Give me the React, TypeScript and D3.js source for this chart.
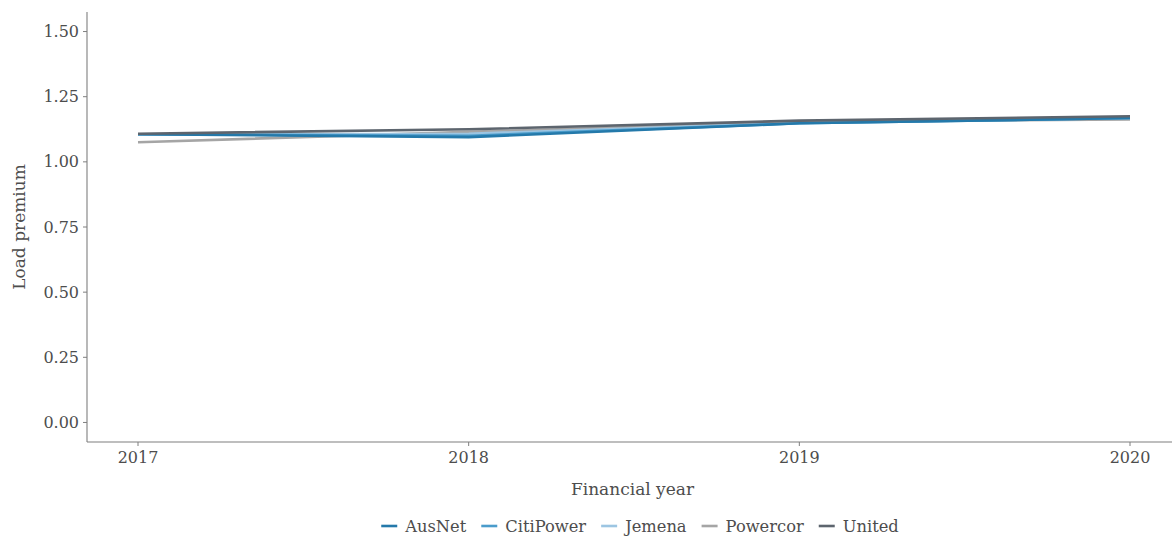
import React, { useEffect, useRef } from "react";
import * as d3 from "d3";

const years = [2017, 2018, 2019, 2020];
const seriesNames = ["AusNet", "CitiPower", "Jemena", "Powercor", "United"];
const ausnet = [1.106, 1.095, 1.148, 1.168];
const citipower = [1.106, 1.100, 1.148, 1.168];
const jemena = [1.106, 1.108, 1.149, 1.168];
const powercor = [1.075, 1.115, 1.153, 1.163];
const united = [1.108, 1.125, 1.158, 1.175];
const seriesValues = [ausnet, citipower, jemena, powercor, united];
const colors = ["#2479aa", "#4a9ccb", "#9cc5e2", "#a5a5a5", "#5d656e"];
const yTicks = [0, 0.25, 0.5, 0.75, 1.0, 1.25, 1.5];

const W = 1173;
const H = 539;
const FONT = "'DejaVu Serif', serif";
const TEXT = "#4d4d4d";

export default function App() {
  const ref = useRef<SVGSVGElement>(null);
  useEffect(() => {
    document.body.style.margin = "0";
    const svg = d3.select(ref.current);
    svg.selectAll("*").remove();
    const left = 87, right = 1172, top = 12, bottom = 442;
    const x = d3.scaleLinear().domain([2017, 2020]).range([138, 1130]);
    const y = d3.scaleLinear().domain([-0.075, 1.575]).range([bottom, top]);

    const axisColor = "#7f7f7f";
    svg.append("line").attr("x1", left).attr("x2", left).attr("y1", top).attr("y2", bottom)
      .attr("stroke", axisColor).attr("stroke-width", 1.1);
    svg.append("line").attr("x1", left).attr("x2", right).attr("y1", bottom).attr("y2", bottom)
      .attr("stroke", axisColor).attr("stroke-width", 1.1);

    yTicks.forEach((t) => {
      svg.append("line").attr("x1", left - 4).attr("x2", left).attr("y1", y(t)).attr("y2", y(t))
        .attr("stroke", axisColor);
      svg.append("text").attr("x", left - 8).attr("y", y(t)).attr("dy", "0.35em")
        .attr("text-anchor", "end").attr("font-family", FONT).attr("font-size", 16)
        .attr("fill", TEXT).text(d3.format(".2f")(t));
    });
    years.forEach((yr) => {
      svg.append("line").attr("x1", x(yr)).attr("x2", x(yr)).attr("y1", bottom).attr("y2", bottom + 4)
        .attr("stroke", axisColor);
      svg.append("text").attr("x", x(yr)).attr("y", bottom + 21)
        .attr("text-anchor", "middle").attr("font-family", FONT).attr("font-size", 16)
        .attr("fill", TEXT).text(String(yr));
    });

    svg.append("text").attr("x", (left + right) / 2 + 3).attr("y", 495)
      .attr("text-anchor", "middle").attr("font-family", FONT).attr("font-size", 17)
      .attr("fill", TEXT).text("Financial year");
    svg.append("text").attr("transform", `translate(25,${(top + bottom) / 2}) rotate(-90)`)
      .attr("text-anchor", "middle").attr("font-family", FONT).attr("font-size", 17)
      .attr("fill", TEXT).text("Load premium");

    const line = d3.line<number>().x((_, i) => x(years[i])).y((d) => y(d));
    const order = [3, 2, 1, 0, 4];
    order.forEach((si) => {
      svg.append("path").datum(seriesValues[si]).attr("d", line as any)
        .attr("fill", "none").attr("stroke", colors[si]).attr("stroke-width", 2.6);
    });

    const g = svg.append("g");
    let cx = 0;
    seriesNames.forEach((name, i) => {
      g.append("line").attr("x1", cx).attr("x2", cx + 16).attr("y1", 0).attr("y2", 0)
        .attr("stroke", colors[i]).attr("stroke-width", 2.6);
      const t = g.append("text").attr("x", cx + 24).attr("y", 0).attr("dy", "0.35em")
        .attr("font-family", FONT).attr("font-size", 16.3).attr("fill", TEXT).text(name);
      const w = (t.node() as SVGTextElement).getComputedTextLength();
      cx += 24 + w + 15;
    });
    const total = cx - 15;
    g.attr("transform", `translate(${640 - total / 2},526)`);
  }, []);
  return <svg ref={ref} width={W} height={H} style={{ display: "block", background: "#fff" }} />;
}
